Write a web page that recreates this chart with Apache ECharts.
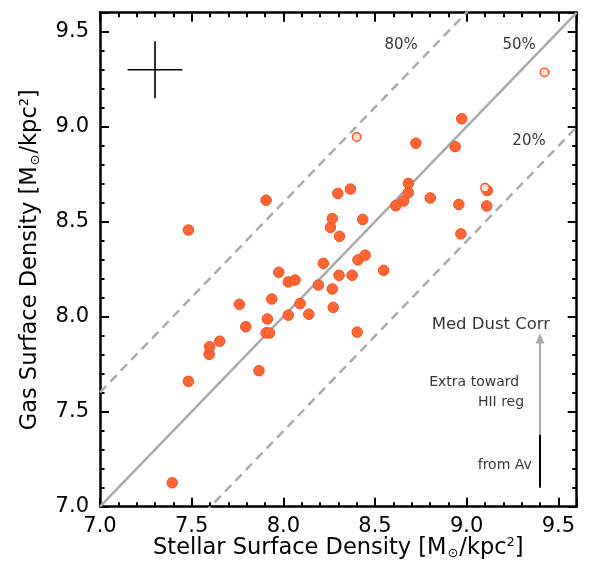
<!DOCTYPE html>
<html>
<head>
<meta charset="utf-8">
<script src="https://cdn.jsdelivr.net/npm/echarts@6/dist/echarts.min.js"></script>
<style>
  html, body { margin: 0; padding: 0; background: #fff; }
  #chart { width: 592px; height: 566px; }
</style>
</head>
<body>
<div id="chart"></div>
<script>
// log stellar surface density vs log gas surface density, one point per region
const stellar = [
  7.394, 7.482, 7.595, 7.598, 7.653, 7.867, 7.482, 7.906, 7.760, 7.795,
  7.906, 7.924, 7.913, 7.937, 7.975, 8.027, 8.064, 8.027, 8.091, 8.139,
  8.191, 8.218, 8.267, 8.272, 8.304, 8.375, 8.403, 8.407, 8.446, 8.547,
  8.257, 8.267, 8.306, 8.433, 8.297, 8.366, 8.613, 8.656, 8.682, 8.682,
  8.801, 8.723, 8.937, 8.973, 8.957, 8.968, 9.109, 9.112
];
const gas = [
  7.126, 7.660, 7.802, 7.842, 7.871, 7.716, 8.456, 8.613, 8.065, 7.947,
  7.915, 7.914, 7.988, 8.093, 8.234, 8.183, 8.193, 8.008, 8.069, 8.013,
  8.167, 8.281, 8.146, 8.049, 8.218, 8.218, 7.919, 8.299, 8.324, 8.244,
  8.470, 8.517, 8.423, 8.512, 8.649, 8.672, 8.584, 8.609, 8.653, 8.702,
  8.625, 8.913, 8.895, 9.042, 8.591, 8.436, 8.583, 8.664
];
// regions drawn as open markers
const openStellar = [8.400, 9.100, 9.424];
const openGas = [8.946, 8.679, 9.286];

// gas fraction lines: log(gas) = log(star) + log10(f / (1 - f))
const gasFractions = [0.8, 0.5, 0.2];
const fractionLabels = ['80%', '50%', '20%'];
const fractionLabelAt = [[8.642, 9.430], [9.286, 9.430], [9.340, 8.926]];

// typical uncertainty cross
const errCenter = [7.30, 9.30];
const errHalf = [0.15, 0.15];

// median dust correction arrow
const dustX = 9.40;
const dustFromAv = [7.10, 7.38];
const dustExtra = [7.38, 7.885];

const axisMin = 7.0, axisMax = 9.6;
const tickLabels = ['7.0', '7.5', '8.0', '8.5', '9.0', '9.5'];

const FONT = 'DejaVu Sans';
const X_TITLE = 'Stellar Surface Density [M{sub|⊙}/kpc{sup|2}]';
const Y_TITLE = 'Gas Surface Density [M{sub|⊙}/kpc{sup|2}]';

function pairs(xs, ys) { return xs.map((x, i) => [x, ys[i]]); }

const fractionSeries = gasFractions.map((f) => {
  const off = Math.log10(f / (1 - f));
  return {
    type: 'line',
    data: [[axisMin, axisMin + off], [axisMax, axisMax + off]],
    showSymbol: false,
    symbol: 'none',
    silent: true,
    z: 1,
    lineStyle: {
      color: '#aaaaaa',
      width: 2.5,
      type: f === 0.5 ? 'solid' : [9, 6]
    }
  };
});

function segment(p0, p1, color, width, z) {
  return {
    type: 'line',
    data: [p0, p1],
    showSymbol: false,
    symbol: 'none',
    silent: true,
    clip: false,
    z: z || 3,
    lineStyle: { color: color, width: width, type: 'solid' }
  };
}

function majorLabel(v) {
  const s = v.toFixed(1);
  return tickLabels.indexOf(s) >= 0 ? s : '';
}

const axisLineStyle = { show: true, lineStyle: { color: '#000', width: 2.5 } };

function majorAxis(pos) {
  return {
    type: 'value', gridIndex: 0, position: pos,
    min: axisMin, max: axisMax, interval: 0.5,
    axisLine: axisLineStyle,
    axisTick: { show: true, inside: true, length: 9, lineStyle: { color: '#000', width: 2 } },
    axisLabel: { show: false },
    splitLine: { show: false },
    minorTick: { show: false }
  };
}
function minorAxis(pos) {
  return {
    type: 'value', gridIndex: 1, position: pos,
    min: axisMin, max: axisMax, interval: 0.1,
    axisLine: { show: false },
    axisTick: { show: true, inside: true, length: 4.5, lineStyle: { color: '#000', width: 2 } },
    axisLabel: { show: false },
    splitLine: { show: false }
  };
}

function nameStyle(color) {
  return {
    fontFamily: FONT, fontSize: 22.5, color: color, lineHeight: 24,
    rich: {
      sub: { fontFamily: FONT, fontSize: 13, color: color, verticalAlign: 'bottom', lineHeight: 24, padding: [0, 1, 0, 1] },
      sup: { fontFamily: FONT, fontSize: 13, color: color, verticalAlign: 'top', lineHeight: 24 }
    }
  };
}
function setTitle(axis, text, gap, color, rotate) {
  axis.name = text;
  axis.nameLocation = 'middle';
  axis.nameGap = gap;
  axis.nameMoveOverlap = false;
  if (rotate) axis.nameRotate = rotate;
  axis.nameTextStyle = nameStyle(color);
  return axis;
}
const X_NAME_GAP = 29;
const Y_NAME_GAP = 58;

const xMain = majorAxis('bottom');
xMain.axisLabel = { show: true, formatter: majorLabel, margin: 9, fontFamily: FONT, fontSize: 21, color: '#000' };
setTitle(xMain, X_TITLE, X_NAME_GAP, '#000');

// the minor-tick grid reserves the same title space so both grids lay out identically
const xMinorBottom = setTitle(minorAxis('bottom'), X_TITLE, X_NAME_GAP, 'rgba(0,0,0,0)');

const yMain = majorAxis('left');
yMain.axisLabel = { show: true, formatter: majorLabel, margin: 11, fontFamily: FONT, fontSize: 21, color: '#000' };
setTitle(yMain, Y_TITLE, Y_NAME_GAP, '#000', 90);

const yMinorLeft = setTitle(minorAxis('left'), Y_TITLE, Y_NAME_GAP, 'rgba(0,0,0,0)', 90);

const gridBox = { left: 100, right: 15.3, top: 12.7, bottom: 59.3 };

const chart = echarts.init(document.getElementById('chart'), null, { renderer: 'canvas' });

chart.setOption({
  backgroundColor: '#fff',
  animation: false,
  grid: [Object.assign({}, gridBox), Object.assign({}, gridBox)],
  xAxis: [xMain, majorAxis('top'), xMinorBottom, minorAxis('top')],
  yAxis: [yMain, majorAxis('right'), yMinorLeft, minorAxis('right')],
  series: [
    ...fractionSeries,
    // uncertainty cross
    segment([errCenter[0] - errHalf[0], errCenter[1]], [errCenter[0] + errHalf[0], errCenter[1]], '#000', 1.6),
    segment([errCenter[0], errCenter[1] - errHalf[1]], [errCenter[0], errCenter[1] + errHalf[1]], '#000', 1.6),
    // dust correction: part from Av (black), extra toward HII regions (grey arrow)
    segment([dustX, dustFromAv[0]], [dustX, dustFromAv[1]], '#000', 2),
    {
      type: 'line',
      data: [],
      silent: true,
      z: 3,
      markLine: {
        silent: true,
        animation: false,
        symbol: ['none', 'triangle'],
        symbolSize: [9, 10],
        label: { show: false },
        lineStyle: { color: '#aaaaaa', width: 2, type: 'solid' },
        data: [[{ coord: [dustX, dustExtra[0]] }, { coord: [dustX, dustExtra[1]] }]]
      }
    },
    {
      type: 'scatter',
      z: 5,
      symbol: 'circle',
      symbolSize: 10.5,
      itemStyle: { color: '#ff6633', borderColor: '#ee4f1c', borderWidth: 1, opacity: 1 },
      data: pairs(stellar, gas)
    },
    {
      type: 'scatter',
      z: 6,
      symbol: 'circle',
      symbolSize: 8.5,
      itemStyle: { color: '#ffe2d8', borderColor: '#ff5522', borderWidth: 1.4, opacity: 1 },
      data: pairs(openStellar, openGas)
    },
    {
      type: 'scatter',
      z: 7,
      silent: true,
      symbolSize: 0,
      label: {
        show: true, position: 'inside', fontFamily: FONT, fontSize: 15, color: '#000',
        formatter: p => p.data.text
      },
      data: fractionLabels.map((t, i) => ({ value: fractionLabelAt[i], text: t }))
    },
    {
      type: 'scatter',
      z: 7,
      silent: true,
      symbolSize: 0,
      label: {
        show: true, position: 'inside', align: 'right', fontFamily: FONT, fontSize: 14, color: '#000',
        formatter: p => p.data.text
      },
      data: [
        { value: [9.455, 7.956], text: 'Med Dust Corr', label: { fontSize: 16.5 } },
        { value: [9.286, 7.653], text: 'Extra toward' },
        { value: [9.313, 7.551], text: 'HII reg' },
        { value: [9.355, 7.216], text: 'from Av' }
      ]
    }
  ]
});
</script>
</body>
</html>
